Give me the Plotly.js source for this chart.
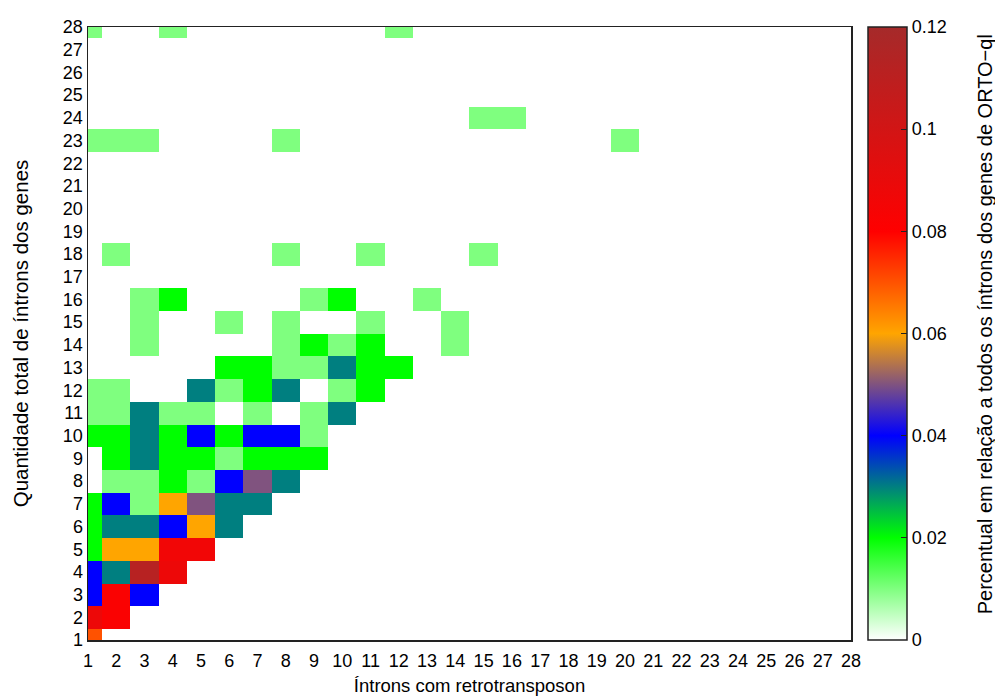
<!DOCTYPE html>
<html>
<head>
<meta charset="utf-8">
<script src="https://cdn.plot.ly/plotly-3.0.1.min.js"></script>
<style>html,body{margin:0;padding:0;background:#fff;}</style>
</head>
<body>
<div id="chart" style="width:995px;height:700px;"></div>
<script>
// Axis categories
const xValues = Array.from({length: 28}, (_, i) => i + 1); // Íntrons com retrotransposon
const yValues = Array.from({length: 28}, (_, i) => i + 1); // Quantidade total de íntrons
const colorTicks = [0, 0.02, 0.04, 0.06, 0.08, 0.1, 0.12];
const colorTickText = ['0', '0.02', '0.04', '0.06', '0.08', '0.1', '0.12'];
const colorbarTitle = 'Percentual em relação a todos os íntrons dos genes de ORTO\u2212ql';

// Non-empty cells (x = introns with retrotransposon, y = total introns, value = fraction)
const cellX = [
  1,
  1, 2,
  1, 2, 3,
  1, 2, 3, 4,
  1, 2, 3, 4, 5,
  1, 2, 3, 4, 5, 6,
  1, 2, 3, 4, 5, 6, 7,
  2, 3, 4, 5, 6, 7, 8,
  2, 3, 4, 5, 6, 7, 8, 9,
  1, 2, 3, 4, 5, 6, 7, 8, 9,
  1, 2, 3, 4, 5, 7, 9, 10,
  1, 2, 5, 6, 7, 8, 10, 11,
  6, 7, 8, 9, 10, 11, 12,
  3, 8, 9, 10, 11, 14,
  3, 6, 8, 11, 14,
  3, 4, 9, 10, 13,
  2, 8, 11, 15,
  1, 2, 3, 8, 20,
  15, 16,
  1, 4, 12
];
const cellY = [
  1,
  2, 2,
  3, 3, 3,
  4, 4, 4, 4,
  5, 5, 5, 5, 5,
  6, 6, 6, 6, 6, 6,
  7, 7, 7, 7, 7, 7, 7,
  8, 8, 8, 8, 8, 8, 8,
  9, 9, 9, 9, 9, 9, 9, 9,
  10, 10, 10, 10, 10, 10, 10, 10, 10,
  11, 11, 11, 11, 11, 11, 11, 11,
  12, 12, 12, 12, 12, 12, 12, 12,
  13, 13, 13, 13, 13, 13, 13,
  14, 14, 14, 14, 14, 14,
  15, 15, 15, 15, 15,
  16, 16, 16, 16, 16,
  18, 18, 18, 18,
  23, 23, 23, 23, 23,
  24, 24,
  28, 28, 28
];
const cellValue = [
  0.07,
  0.088, 0.082,
  0.04, 0.082, 0.04,
  0.04, 0.03, 0.112, 0.088,
  0.02, 0.06, 0.06, 0.086, 0.086,
  0.02, 0.03, 0.03, 0.04, 0.06, 0.03,
  0.02, 0.04, 0.01, 0.06, 0.05, 0.03, 0.03,
  0.01, 0.01, 0.02, 0.01, 0.04, 0.05, 0.03,
  0.02, 0.03, 0.02, 0.02, 0.01, 0.02, 0.02, 0.02,
  0.02, 0.02, 0.03, 0.02, 0.04, 0.02, 0.04, 0.04, 0.01,
  0.01, 0.01, 0.03, 0.01, 0.01, 0.01, 0.01, 0.03,
  0.01, 0.01, 0.03, 0.01, 0.02, 0.03, 0.01, 0.02,
  0.02, 0.02, 0.01, 0.01, 0.03, 0.02, 0.02,
  0.01, 0.01, 0.02, 0.01, 0.02, 0.01,
  0.01, 0.01, 0.01, 0.01, 0.01,
  0.01, 0.02, 0.01, 0.02, 0.01,
  0.01, 0.01, 0.01, 0.01,
  0.01, 0.01, 0.01, 0.01, 0.01,
  0.01, 0.01,
  0.01, 0.01, 0.01
];

// Build the z matrix (rows = y, columns = x)
const z = yValues.map(() => xValues.map(() => null));
for (let i = 0; i < cellValue.length; i++) {
  z[cellY[i] - 1][cellX[i] - 1] = cellValue[i];
}

const colorscale = [
  [0, '#ffffff'],
  [1/6, '#00ff00'],
  [2/6, '#0000ff'],
  [3/6, '#ffa500'],
  [4/6, '#ff0000'],
  [1, '#a52a2a']
];

const FONT = 'Liberation Sans, Arial, Helvetica, sans-serif';

const trace = {
  type: 'heatmap',
  x: xValues,
  y: yValues,
  z: z,
  zmin: 0,
  zmax: 0.12,
  zsmooth: false,
  colorscale: colorscale,
  hoverongaps: false,
  colorbar: {
    x: 1 + 17/763,
    xanchor: 'left',
    xpad: 0,
    y: 0.5,
    yanchor: 'middle',
    ypad: 0,
    len: 1,
    lenmode: 'fraction',
    thickness: 39,
    thicknessmode: 'pixels',
    outlinewidth: 1.5,
    outlinecolor: '#222',
    tickmode: 'array',
    tickvals: colorTicks,
    ticktext: colorTickText,
    ticks: 'inside',
    ticklen: 6,
    tickwidth: 1,
    tickcolor: '#222',
    tickfont: {family: FONT, size: 18, color: '#000'}
  }
};

const layout = {
  width: 995,
  height: 700,
  margin: {l: 88, r: 144, t: 27, b: 60},
  paper_bgcolor: '#fff',
  plot_bgcolor: '#fff',
  font: {family: FONT, size: 18, color: '#000'},
  xaxis: {
    range: [1, 28],
    tickmode: 'array',
    tickvals: xValues,
    ticktext: xValues.map(String),
    ticks: '',
    ticklabelstandoff: 4,
    showgrid: false,
    zeroline: false,
    showline: true,
    mirror: true,
    linecolor: '#222',
    linewidth: 1.5,
    automargin: false,
    tickfont: {family: FONT, size: 18, color: '#000'},
    title: {text: 'Íntrons com retrotransposon', font: {family: FONT, size: 18.5, color: '#000'}, standoff: 9}
  },
  yaxis: {
    range: [1, 28],
    tickmode: 'array',
    tickvals: yValues,
    ticktext: yValues.map(String),
    ticks: '',
    showgrid: false,
    zeroline: false,
    showline: true,
    mirror: true,
    linecolor: '#222',
    linewidth: 1.5,
    automargin: false,
    tickfont: {family: FONT, size: 18, color: '#000'},
    title: {text: 'Quantidade total de íntrons dos genes', font: {family: FONT, size: 20.5, color: '#000'}, standoff: 28}
  },
  annotations: [{
    text: colorbarTitle,
    xref: 'paper', yref: 'paper',
    x: 1.1756, y: 0.515,
    xanchor: 'center', yanchor: 'middle',
    textangle: -90,
    showarrow: false,
    font: {family: FONT, size: 20, color: '#000'}
  }]
};

Plotly.newPlot('chart', [trace], layout, {displayModeBar: false, staticPlot: true});
</script>
</body>
</html>
